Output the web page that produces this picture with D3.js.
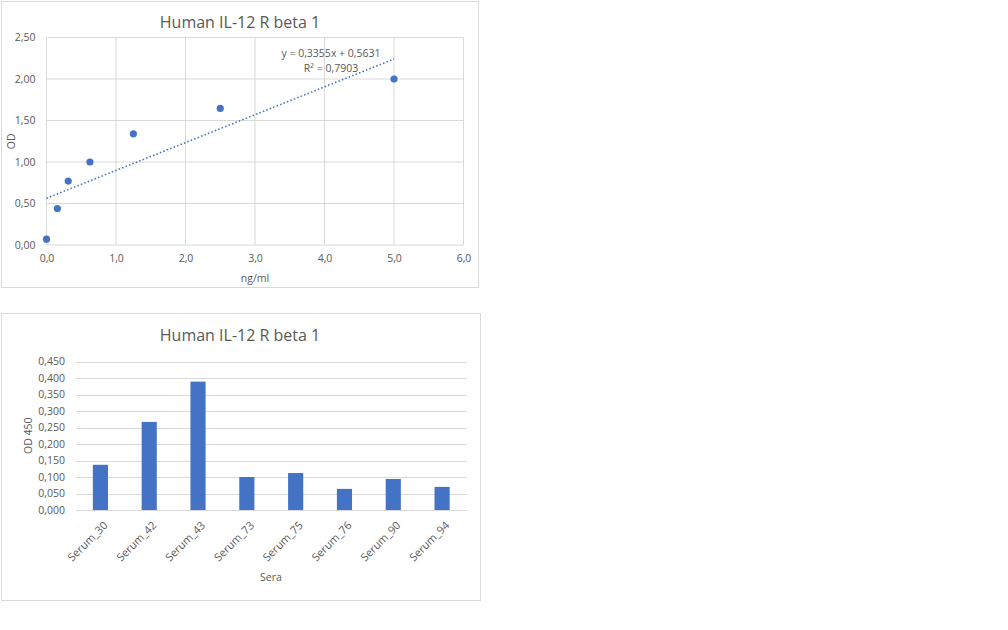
<!DOCTYPE html>
<html>
	<head>
		<script type="text/javascript" src="https://cdn.jsdelivr.net/npm/d3@7/dist/d3.min.js"></script>
		<meta charset="utf-8">
		<title></title>
		<style>
			body { margin:0; background:#fff; }
			text { font-family: "Open Sans", "Noto Sans", sans-serif; fill:#595959; }
		</style>
	</head>
	<body>
	</body>
<script type="text/javascript">
	// standard curve data (ng/ml vs OD)
	var conc = [0, 0.15625, 0.3125, 0.625, 1.25, 2.5, 5];
	var od = [0.07, 0.44, 0.77, 1.00, 1.34, 1.645, 2.00];
	var trendSlope = 0.3355;
	var trendIntercept = 0.5631;
	var trendText = ["y = 0,3355x + 0,5631", "R² = 0,7903"];
	var xTicks1 = [0, 1, 2, 3, 4, 5, 6];
	var yTicks1 = [0, 0.5, 1, 1.5, 2, 2.5];

	// sera data
	var sera = ["Serum_30", "Serum_42", "Serum_43", "Serum_73", "Serum_75", "Serum_76", "Serum_90", "Serum_94"];
	var od450 = [0.137, 0.267, 0.389, 0.100, 0.112, 0.064, 0.094, 0.070];
	var yTicks2 = [0, 0.05, 0.1, 0.15, 0.2, 0.25, 0.3, 0.35, 0.4, 0.45];

	var blue = "#4472c4";
	var gridColor = "#d9d9d9";
	var comma = function(f){ return function(d){ return d3.format(f)(d).replace(".", ","); }; };

	var svg = d3.select("body")
		.append("svg")
		.attr("width", 1008)
		.attr("height", 630);

	// ---------- chart 1: scatter + trendline ----------
	svg.append("rect")
		.attr("x", 1.5).attr("y", 1.5)
		.attr("width", 477).attr("height", 286)
		.attr("fill", "#fff").attr("stroke", gridColor);

	var p1 = {left:46.5, right:463.5, top:37.5, bottom:245};
	var x1 = d3.scaleLinear().domain([0, 6]).range([p1.left, p1.right]);
	var y1 = d3.scaleLinear().domain([0, 2.5]).range([p1.bottom, p1.top]);

	var g1 = svg.append("g");
	// gridlines
	g1.selectAll(".vgrid").data(xTicks1).enter().append("line")
		.attr("x1", function(d){ return x1(d); }).attr("x2", function(d){ return x1(d); })
		.attr("y1", p1.top).attr("y2", p1.bottom)
		.attr("stroke", gridColor);
	g1.selectAll(".hgrid").data(yTicks1).enter().append("line")
		.attr("x1", p1.left).attr("x2", p1.right)
		.attr("y1", function(d){ return y1(d); }).attr("y2", function(d){ return y1(d); })
		.attr("stroke", gridColor);

	// axis labels
	var xAxis1 = d3.axisBottom(x1).tickValues(xTicks1).tickSize(0).tickPadding(10).tickFormat(comma(".1f"));
	var yAxis1 = d3.axisLeft(y1).tickValues(yTicks1).tickSize(0).tickPadding(11).tickFormat(comma(".2f"));
	g1.append("g").attr("transform", "translate(0," + p1.bottom + ")").call(xAxis1);
	g1.append("g").attr("transform", "translate(" + p1.left + ",0)").call(yAxis1);
	g1.selectAll(".domain").remove();
	g1.selectAll(".tick text").attr("font-size", 10.5).attr("font-family", null);

	// trendline
	g1.append("line")
		.attr("x1", x1(0)).attr("y1", y1(trendIntercept))
		.attr("x2", x1(d3.max(conc))).attr("y2", y1(trendIntercept + trendSlope * d3.max(conc)))
		.attr("stroke", blue).attr("stroke-width", 1.6)
		.attr("stroke-dasharray", "1.5,2.2");

	// points
	g1.selectAll(".dot").data(conc).enter().append("circle")
		.attr("cx", function(d){ return x1(d); })
		.attr("cy", function(d, i){ return y1(od[i]); })
		.attr("r", 3.6)
		.attr("fill", blue);

	// equation
	g1.selectAll(".eq").data(trendText).enter().append("text")
		.attr("x", 331)
		.attr("y", function(d, i){ return 57 + i * 15; })
		.attr("text-anchor", "middle")
		.attr("font-size", 10.5)
		.attr("fill", "#404040")
		.text(function(d){ return d; });

	g1.append("text").attr("x", 240).attr("y", 28).attr("text-anchor", "middle")
		.attr("font-size", 16).text("Human IL-12 R beta 1");
	g1.append("text").attr("x", x1(3)).attr("y", 282).attr("text-anchor", "middle")
		.attr("font-size", 10.5).text("ng/ml");
	g1.append("text").attr("transform", "translate(15," + ((p1.top + p1.bottom) / 2) + ") rotate(-90)")
		.attr("text-anchor", "middle").attr("font-size", 10.5).text("OD");

	// ---------- chart 2: bar chart ----------
	svg.append("rect")
		.attr("x", 1.5).attr("y", 313.5)
		.attr("width", 479).attr("height", 287)
		.attr("fill", "#fff").attr("stroke", gridColor);

	var p2 = {left:76, right:466.5, top:361.5, bottom:510};
	var x2 = d3.scaleBand().domain(sera).range([p2.left, p2.right]).paddingInner(0.69).paddingOuter(0.345);
	var y2 = d3.scaleLinear().domain([0, 0.45]).range([p2.bottom, p2.top]);

	var g2 = svg.append("g");
	g2.selectAll(".hgrid").data(yTicks2).enter().append("line")
		.attr("x1", p2.left).attr("x2", p2.right)
		.attr("y1", function(d){ return Math.round(y2(d)) + 0.5; }).attr("y2", function(d){ return Math.round(y2(d)) + 0.5; })
		.attr("stroke", gridColor);

	var yAxis2 = d3.axisLeft(y2).tickValues(yTicks2).tickSize(0).tickPadding(11).tickFormat(comma(".3f"));
	g2.append("g").attr("transform", "translate(" + p2.left + ",0)").call(yAxis2);

	// bars
	g2.selectAll(".bar").data(od450).enter().append("rect")
		.attr("x", function(d, i){ return x2(sera[i]); })
		.attr("width", x2.bandwidth())
		.attr("y", function(d){ return y2(d); })
		.attr("height", function(d){ return p2.bottom - y2(d); })
		.attr("fill", blue);

	// rotated category labels
	var xAxis2 = d3.axisBottom(x2).tickSize(0).tickPadding(0);
	var xg2 = g2.append("g").attr("transform", "translate(0," + p2.bottom + ")").call(xAxis2);
	g2.selectAll(".domain").remove();
	g2.selectAll(".tick text").attr("font-size", 10.5).attr("font-family", null);
	xg2.selectAll(".tick text")
		.attr("text-anchor", "end")
		.attr("dy", null)
		.attr("font-size", 11)
		.attr("transform", "translate(8,16) rotate(-45)");

	g2.append("text").attr("x", 240).attr("y", 341).attr("text-anchor", "middle")
		.attr("font-size", 16).text("Human IL-12 R beta 1");
	g2.append("text").attr("x", 271).attr("y", 581).attr("text-anchor", "middle")
		.attr("font-size", 10.5).text("Sera");
	g2.append("text").attr("transform", "translate(32," + ((p2.top + p2.bottom) / 2) + ") rotate(-90)")
		.attr("text-anchor", "middle").attr("font-size", 10.5).text("OD 450");
</script>
</html>
